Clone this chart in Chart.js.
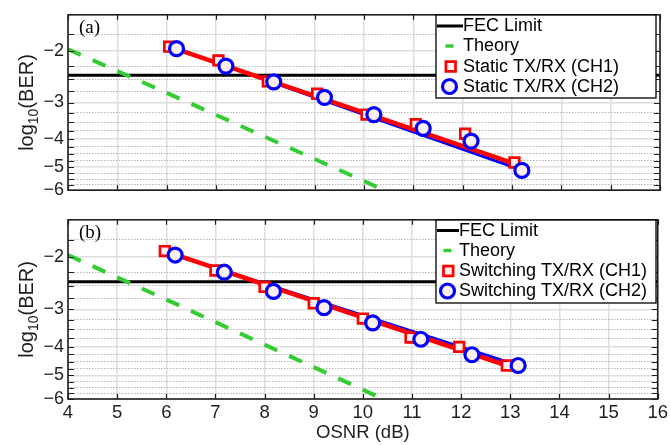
<!DOCTYPE html>
<html><head><meta charset="utf-8">
<script src="https://cdn.jsdelivr.net/npm/chart.js@4.4.1/dist/chart.umd.min.js"></script>
<style>
html,body{margin:0;padding:0;background:#fff;}
#wrap{position:relative;width:671px;height:445px;overflow:hidden;background:#fff;}
canvas{position:absolute;left:0;}
#ca{top:0;width:671px;height:205px;}
#cb{top:205px;width:671px;height:240px;}
</style></head><body>
<div id="wrap"><canvas id="ca" width="671" height="205"></canvas><canvas id="cb" width="671" height="240"></canvas></div>
<script>
// ---------------- data (log10(BER) vs OSNR in dB) ----------------
const OSNR_TICKS = [4,5,6,7,8,9,10,11,12,13,14,15,16];
const Y_TICKS = [-2,-3,-4,-5,-6];
const Y_MINOR_TICKS = [-1.75,-2.25,-2.5,-2.75,-3.25,-3.5,-3.75,-4.25,-4.5,-4.75,-5.25,-5.5,-5.75];
const Y_RANGE = [-1.5, -6];
const X_RANGE = [4, 16];

const FEC_OSNR = [4, 16];
const FEC_LOGBER = [-2.42, -2.42];

const THEORY_OSNR   = [4, 5, 6, 7, 8, 9, 10, 10.4];
const THEORY_LOGBER = [-1.97, -2.34, -2.78, -3.31, -3.94, -4.69, -5.58, -6.0];

// (a) static TX/RX
const STATIC_CH1_OSNR   = [6.05, 7.05, 8.05, 9.05, 10.05, 11.05, 12.05, 13.05];
const STATIC_CH1_LOGBER = [-1.93, -2.15, -2.54, -2.80, -3.30, -3.56, -3.84, -4.82];
const STATIC_CH2_OSNR   = [6.2, 7.2, 8.17, 9.2, 10.2, 11.2, 12.17, 13.2];
const STATIC_CH2_LOGBER = [-1.96, -2.25, -2.55, -2.88, -3.30, -3.68, -4.07, -5.13];
const STATIC_CH1_FIT_OSNR   = [6.05, 13.05];
const STATIC_CH1_FIT_LOGBER = [-1.93, -4.86];
const STATIC_CH2_FIT_OSNR   = [6.2, 13.2];
const STATIC_CH2_FIT_LOGBER = [-1.96, -5.12];

// (b) switching TX/RX
const SWITCH_CH1_OSNR   = [5.97, 7.0, 8.0, 9.0, 10.0, 10.97, 11.96, 12.93];
const SWITCH_CH1_LOGBER = [-1.91, -2.22, -2.52, -2.86, -3.22, -3.73, -4.01, -4.63];
const SWITCH_CH2_OSNR   = [6.18, 7.18, 8.18, 9.21, 10.2, 11.18, 12.22, 13.16];
const SWITCH_CH2_LOGBER = [-1.97, -2.25, -2.61, -2.96, -3.33, -3.78, -4.26, -4.63];
const SWITCH_CH1_FIT_OSNR   = [5.97, 12.93];
const SWITCH_CH1_FIT_LOGBER = [-1.91, -4.63];
const SWITCH_CH2_FIT_OSNR   = [6.18, 13.16];
const SWITCH_CH2_FIT_LOGBER = [-1.97, -4.63];

const LEGEND_A = ['FEC Limit', 'Theory', 'Static TX/RX (CH1)', 'Static TX/RX (CH2)'];
const LEGEND_B = ['FEC Limit', 'Theory', 'Switching TX/RX (CH1)', 'Switching TX/RX (CH2)'];
const X_TITLE = 'OSNR (dB)';

// ---------------- styling ----------------
const FONT = "'Liberation Sans', Arial, Helvetica, sans-serif";
const SERIF = "'Liberation Serif', 'Times New Roman', serif";
const INK = '#1e1e1e';
const RED = '#ff0000', BLUE = '#0000ff', GREEN = '#33cc33';
const MARK_FILL = '#fff0f0';

// plotted on a log axis of -log10(BER)
const toU = v => -v;
const pts = (xs, ys) => xs.map((x, i) => ({x: x, y: toU(ys[i])}));
const fmt = v => String(v).replace('-', '\u2212');

function drawYTitle(ctx, cy) {
  ctx.save();
  ctx.translate(33, cy);
  ctx.rotate(-Math.PI / 2);
  const big = '20px ' + FONT, small = '14px ' + FONT;
  ctx.font = big; const w1 = ctx.measureText('log').width, w3 = ctx.measureText('(BER)').width;
  ctx.font = small; const w2 = ctx.measureText('10').width;
  let x = -(w1 + w2 + w3) / 2;
  ctx.fillStyle = INK; ctx.textBaseline = 'alphabetic'; ctx.textAlign = 'left';
  ctx.font = big; ctx.fillText('log', x, 0); x += w1;
  ctx.font = small; ctx.fillText('10', x, 5); x += w2;
  ctx.font = big; ctx.fillText('(BER)', x, 0);
  ctx.restore();
}

function drawLegend(ctx, L, labels, datasets) {
  ctx.save();
  ctx.fillStyle = '#fff';
  ctx.fillRect(L.x, L.y, L.w, L.h);
  ctx.strokeStyle = '#000'; ctx.lineWidth = 1.3;
  ctx.strokeRect(L.x, L.y, L.w, L.h);
  ctx.font = '18px ' + FONT; ctx.textBaseline = 'middle'; ctx.textAlign = 'left'; ctx.fillStyle = '#000';
  const ys = L.rows;
  ctx.strokeStyle = datasets[0].borderColor; ctx.lineWidth = 3;
  ctx.beginPath(); ctx.moveTo(L.x + 1, ys[0]); ctx.lineTo(L.textX, ys[0]); ctx.stroke();
  ctx.strokeStyle = datasets[1].borderColor; ctx.lineWidth = 3.5;
  ctx.beginPath(); ctx.moveTo(L.symX - 4, ys[1]); ctx.lineTo(L.symX + 4, ys[1]); ctx.stroke();
  const d1 = datasets[4], d2 = datasets[5];
  const s = d1.pointRadius * Math.SQRT1_2;
  ctx.fillStyle = d1.backgroundColor; ctx.strokeStyle = d1.borderColor; ctx.lineWidth = d1.borderWidth;
  ctx.beginPath(); ctx.rect(L.symX + L.sqDx - s, ys[2] - s, 2 * s, 2 * s); ctx.fill(); ctx.stroke();
  ctx.fillStyle = d2.backgroundColor; ctx.strokeStyle = d2.borderColor; ctx.lineWidth = d2.borderWidth;
  ctx.beginPath(); ctx.arc(L.symX, ys[3], d2.pointRadius, 0, Math.PI * 2); ctx.fill(); ctx.stroke();
  ctx.fillStyle = '#000';
  labels.forEach((t, i) => ctx.fillText(t, L.textX, ys[i] + 0.5));
  ctx.restore();
}

function makePanel(canvasId, p) {
  const datasets = [
    {label: 'FEC Limit', data: pts(FEC_OSNR, FEC_LOGBER), showLine: true, borderColor: '#000', borderWidth: 3, pointRadius: 0, order: 6},
    {label: 'Theory', data: pts(THEORY_OSNR, THEORY_LOGBER), showLine: true, borderColor: GREEN, borderWidth: 4, borderDash: [14, 13], pointRadius: 0, order: 5},
    {label: 'CH2 fit', data: pts(p.ch2FitX, p.ch2FitY), showLine: true, borderColor: BLUE, borderWidth: 3, pointRadius: 0, order: 4},
    {label: 'CH1 fit', data: pts(p.ch1FitX, p.ch1FitY), showLine: true, borderColor: RED, borderWidth: 4.5, pointRadius: 0, order: 3},
    {label: p.labels[2], data: pts(p.ch1X, p.ch1Y), showLine: false, pointStyle: 'rect', pointRadius: 6.8, borderColor: RED, borderWidth: 2.7, backgroundColor: MARK_FILL, order: 2},
    {label: p.labels[3], data: pts(p.ch2X, p.ch2Y), showLine: false, pointStyle: 'circle', pointRadius: 7, borderColor: BLUE, borderWidth: 3.2, backgroundColor: MARK_FILL, order: 1}
  ];
  const decor = {
    id: 'decor',
    afterDraw(chart) {
      const ctx = chart.ctx, a = chart.chartArea, x = chart.scales.x, y = chart.scales.y;
      ctx.save();
      ctx.strokeStyle = INK; ctx.lineWidth = 1.2;
      ctx.beginPath();
      OSNR_TICKS.forEach(v => {
        const px = Math.round(x.getPixelForValue(v)) + 0.5;
        ctx.moveTo(px, a.bottom); ctx.lineTo(px, a.bottom - 5);
        ctx.moveTo(px, a.top); ctx.lineTo(px, a.top + 5);
      });
      Y_TICKS.concat(Y_MINOR_TICKS).forEach(v => {
        const py = Math.round(y.getPixelForValue(toU(v))) + 0.5;
        ctx.moveTo(a.left, py); ctx.lineTo(a.left + 6, py);
        ctx.moveTo(a.right, py); ctx.lineTo(a.right - 6, py);
      });
      ctx.stroke();
      ctx.lineWidth = 1.6;
      ctx.strokeRect(a.left, a.top, a.right - a.left, a.bottom - a.top);
      ctx.restore();
      ctx.save();
      ctx.font = '19px ' + SERIF; ctx.fillStyle = '#000'; ctx.textBaseline = 'middle'; ctx.textAlign = 'left';
      ctx.fillText(p.tag, 79, 28);
      ctx.restore();
      drawYTitle(ctx, (a.top + a.bottom) / 2);
      drawLegend(ctx, p.legend, p.labels, chart.data.datasets);
    }
  };
  const yCommon = {
    type: 'logarithmic', min: toU(Y_RANGE[0]), max: toU(Y_RANGE[1]), reverse: true, bounds: 'data'
  };
  return new Chart(document.getElementById(canvasId), {
    type: 'scatter',
    data: {datasets: datasets},
    options: {
      responsive: false, animation: false, devicePixelRatio: 1,
      events: [],
      layout: {padding: {left: 0, right: 11, top: 12, bottom: p.showX ? 0 : 11}},
      plugins: {legend: {display: false}, tooltip: {enabled: false}},
      scales: {
        x: {
          type: 'linear', min: X_RANGE[0], max: X_RANGE[1],
          afterBuildTicks: s => { s.ticks = OSNR_TICKS.map(v => ({value: v})); },
          ticks: {display: p.showX, autoSkip: false, maxRotation: 0, padding: 3, color: INK,
                  font: {family: FONT, size: 18.5}, callback: v => String(v)},
          grid: {color: '#dedede', lineWidth: 1.5, drawTicks: false},
          border: {display: false},
          title: {display: p.showX, text: X_TITLE, color: INK, font: {family: FONT, size: 18.5}, padding: {top: 0, bottom: 1}},
          afterFit: s => { s.height = p.showX ? 46 : 0; }
        },
        y: Object.assign({}, yCommon, {
          position: 'left',
          afterBuildTicks: s => { s.ticks = Y_TICKS.map(v => ({value: toU(v)})); },
          ticks: {autoSkip: false, padding: 4, color: INK, font: {family: FONT, size: 18},
                  callback: (v, i) => fmt(Y_TICKS[i])},
          grid: {color: '#dedede', lineWidth: 1.5, drawTicks: false},
          border: {display: false},
          afterFit: s => { s.width = 68; }
        }),
        y2: Object.assign({}, yCommon, {
          position: 'right',
          afterBuildTicks: s => { s.ticks = Y_MINOR_TICKS.map(v => ({value: toU(v)})); },
          ticks: {display: false, autoSkip: false},
          grid: {color: '#b4b4b4', lineWidth: 1, drawTicks: false},
          border: {display: false, dash: [1.5, 1.5]},
          afterFit: s => { s.width = 0; }
        })
      }
    },
    plugins: [decor]
  });
}

makePanel('ca', {
  tag: '(a)', showX: false, labels: LEGEND_A,
  ch1X: STATIC_CH1_OSNR, ch1Y: STATIC_CH1_LOGBER, ch2X: STATIC_CH2_OSNR, ch2Y: STATIC_CH2_LOGBER,
  ch1FitX: STATIC_CH1_FIT_OSNR, ch1FitY: STATIC_CH1_FIT_LOGBER, ch2FitX: STATIC_CH2_FIT_OSNR, ch2FitY: STATIC_CH2_FIT_LOGBER,
  legend: {x: 436, y: 15, w: 220, h: 83, rows: [26, 46, 66.5, 86.5], textX: 463, symX: 449.5, sqDx: 1.2}
});
makePanel('cb', {
  tag: '(b)', showX: true, labels: LEGEND_B,
  ch1X: SWITCH_CH1_OSNR, ch1Y: SWITCH_CH1_LOGBER, ch2X: SWITCH_CH2_OSNR, ch2Y: SWITCH_CH2_LOGBER,
  ch1FitX: SWITCH_CH1_FIT_OSNR, ch1FitY: SWITCH_CH1_FIT_LOGBER, ch2FitX: SWITCH_CH2_FIT_OSNR, ch2FitY: SWITCH_CH2_FIT_LOGBER,
  legend: {x: 436, y: 15, w: 220, h: 83, rows: [25.5, 45.5, 66, 86], textX: 459, symX: 447.5, sqDx: 0.8}
});
</script></body></html>
